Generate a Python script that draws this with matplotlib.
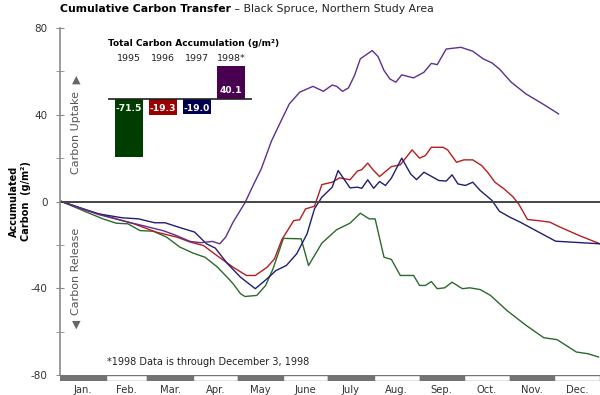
import matplotlib
matplotlib.use("Agg")
import matplotlib.pyplot as plt
from matplotlib.ticker import MultipleLocator

# ---- data (day of year, accumulated carbon g/m2) ----
days_1995 = [1, 18, 29, 38, 46, 54, 63, 72, 81, 90, 98, 106, 113, 117, 122, 125, 133, 139, 144,
             151, 163, 168, 177, 187, 196, 203, 209, 213, 219, 224, 230, 239, 243, 247, 251, 255,
             260, 265, 272, 277, 284, 291, 302, 315, 327, 336, 349, 357, 364]
carbon_1995 = [0, -4.9, -8, -10, -10.3, -13.4, -13.7, -16.4, -21, -23.8, -25.7, -30, -34.9, -37.9,
               -42.5, -43.8, -43.3, -38.7, -31, -17, -17.2, -29.5, -19.2, -13, -10, -5.4, -8, -8,
               -25.7, -26.7, -34.1, -34.1, -38.7, -38.7, -36.9, -40.2, -39.8, -37.2, -40.2, -39.8,
               -40.6, -43.3, -50.2, -57.1, -62.8, -63.7, -69.4, -70.2, -71.7]

days_1996 = [1, 18, 34, 50, 65, 79, 88, 97, 106, 117, 126, 132, 140, 145, 150, 158, 162, 166, 172,
             177, 184, 189, 196, 201, 204, 208, 212, 216, 224, 230, 238, 243, 247, 251, 259, 262,
             268, 273, 279, 285, 289, 294, 300, 306, 310, 316, 323, 331, 338, 351, 365]
carbon_1996 = [0, -4.1, -7.2, -10.3, -14.1, -16.4, -18.7, -20.3, -24.9, -30.3, -34.1, -34.1, -30.3,
               -26.4, -17.5, -8.8, -8.4, -3.4, -2.2, 7.8, 8.9, 10.9, 10, 14, 14.7, 17.7, 14.3, 11.5,
               16.1, 16.9, 23.8, 20, 21.2, 25, 25, 23.8, 18.1, 19.2, 19.2, 16.6, 13.5, 8.9, 5.9, 2.3,
               -1.1, -8.3, -8.8, -9.5, -11.8, -15.7, -19.5]

days_1997 = [1, 26, 42, 53, 64, 71, 80, 91, 99, 105, 113, 122, 132, 140, 146, 153, 160, 167, 172,
             177, 184, 188, 196, 201, 204, 208, 212, 216, 220, 224, 231, 237, 241, 246, 250, 256,
             261, 265, 269, 274, 279, 284, 292, 297, 304, 311, 335, 365]
carbon_1997 = [0, -5.7, -7.5, -8, -9.8, -9.8, -11.8, -14.1, -19.5, -21.5, -28.5, -34.9, -40.2, -35.6,
               -31.8, -29.5, -24.1, -14.9, -3.4, 2, 6.6, 14.3, 6.3, 6.6, 6.1, 10, 6.1, 9.2, 7.4, 10.8,
               20, 12.7, 10.1, 13.5, 12, 9.7, 9.4, 12.3, 8.1, 7.4, 8.9, 5.1, 0.5, -4.5, -7.2, -9.5,
               -18.3, -19.5]

days_1998 = [1, 26, 42, 60, 70, 78, 88, 95, 103, 108, 112, 117, 125, 131, 136, 143, 150, 155, 162,
             171, 178, 184, 187, 191, 195, 199, 203, 211, 215, 219, 223, 227, 231, 239, 246, 251,
             255, 261, 271, 279, 286, 292, 297, 305, 315, 327, 337]
carbon_1998 = [0, -6, -8.8, -11.8, -13.5, -15.5, -18.4, -19, -18.4, -19.5, -16.4, -9.5, -0.6, 8.1, 15,
               28, 38, 45, 50.4, 53.1, 50.8, 53.7, 53.1, 50.8, 52.4, 58, 65.8, 69.6, 66.8, 60.4,
               56.5, 55, 58.4, 57, 59.6, 63.7, 63.1, 70.3, 71.1, 69.3, 65.8, 63.9, 61.1, 55, 49.6,
               44.7, 40.4]

years = ["1995", "1996", "1997", "1998*"]
totals = [-71.5, -19.3, -19.0, 40.1]
total_labels = ["-71.5", "-19.3", "-19.0", "40.1"]

months = ["Jan.", "Feb.", "Mar.", "Apr.", "May", "June", "July", "Aug.", "Sep.", "Oct.", "Nov.", "Dec."]
month_starts = [0, 31, 59, 90, 120, 151, 181, 212, 243, 273, 304, 334, 365]

line_colors = ["#2b6a2b", "#b81c1c", "#1f1f72", "#5e2f8c"]
bar_colors = ["#003d00", "#990000", "#00004f", "#4a0050"]

fig = plt.figure(figsize=(6, 3.95), dpi=100)

# ---- main chart ----
ax = fig.add_axes([0.1, 0.0506, 0.9, 0.8785])
series = [(days_1995, carbon_1995), (days_1996, carbon_1996),
          (days_1997, carbon_1997), (days_1998, carbon_1998)]
for (d, c), col in zip(series, line_colors):
    ax.plot(d, c, color=col, lw=1.0)
ax.axhline(0, color="#444444", lw=1.4)
ax.set_xlim(0, 365)
ax.set_ylim(-80, 80)
for s in ["top", "right", "bottom"]:
    ax.spines[s].set_visible(False)
ax.spines["left"].set_color("#8a8a8a")
ax.spines["left"].set_linewidth(1.2)
ax.set_xticks([])
ax.yaxis.set_major_locator(MultipleLocator(40))
ax.yaxis.set_minor_locator(MultipleLocator(20))
ax.tick_params(axis="y", which="both", direction="inout", length=6, color="#8a8a8a",
               labelsize=7.5, labelcolor="#333333", pad=6)
ax.set_yticklabels([f"{int(v)}" for v in ax.get_yticks()])

ax.text(32, -74, "*1998 Data is through December 3, 1998", fontsize=7, color="#222222", va="center")

# side annotations
ax.text(0.03, 0.70, "Carbon Uptake", transform=ax.transAxes, rotation=90, fontsize=8,
        color="#555555", ha="center", va="center")
ax.text(0.03, 0.852, "\u25B2", transform=ax.transAxes, fontsize=8, color="#666666",
        ha="center", va="center")
ax.text(0.03, 0.30, "Carbon Release", transform=ax.transAxes, rotation=90, fontsize=8,
        color="#555555", ha="center", va="center")
ax.text(0.03, 0.145, "\u25BC", transform=ax.transAxes, fontsize=8, color="#666666",
        ha="center", va="center")

fig.text(0.033, 0.49, "Accumulated\nCarbon  (g/m\u00b2)", rotation=90, fontsize=7,
         fontweight="bold", ha="center", va="center", multialignment="center")

# ---- month bar ----
mb = fig.add_axes([0.1, 0.035, 0.9, 0.015])
for i, m in enumerate(months):
    w = month_starts[i + 1] - month_starts[i]
    mb.bar(month_starts[i], 1, width=w, align="edge",
           color="#737373" if i % 2 == 0 else "white", edgecolor="#737373", lw=1)
    mb.text(month_starts[i] + w / 2, -0.6, m, ha="center", va="top", fontsize=7.2, color="#333333")
mb.set_xlim(0, 365)
mb.set_ylim(0, 1)
mb.axis("off")

# ---- inset bar chart ----
ins = fig.add_axes([0.18, 0.5947, 0.24, 0.2476])
ins.bar(range(4), totals, width=0.82, color=bar_colors)
ins.axhline(0, color="#222222", lw=1.2)
ins.set_xlim(-0.62, 3.62)
ins.set_ylim(-75, 45)
ins.axis("off")
for i, (yr, lab, v) in enumerate(zip(years, total_labels, totals)):
    ins.text(i, 50, yr, ha="center", va="center", fontsize=6.8, color="#222222")
    ins.text(i, -12 if v < 0 else 11, lab, ha="center", va="center", fontsize=6.6,
             color="white", fontweight="bold")
ins.text(-0.62, 68, "Total Carbon Accumulation (g/m\u00b2)", ha="left", va="center",
         fontsize=6.5, fontweight="bold")

# ---- title ----
t1 = fig.text(0.1, 0.978, "Cumulative Carbon Transfer", fontsize=7.8, fontweight="bold",
              ha="left", va="center")
ax.annotate(" \u2013 Black Spruce, Northern Study Area", xy=(1, 0.5), xycoords=t1,
            va="center", ha="left", fontsize=7.8, color="#222222", annotation_clip=False)

fig.savefig("out.png", dpi=100)
